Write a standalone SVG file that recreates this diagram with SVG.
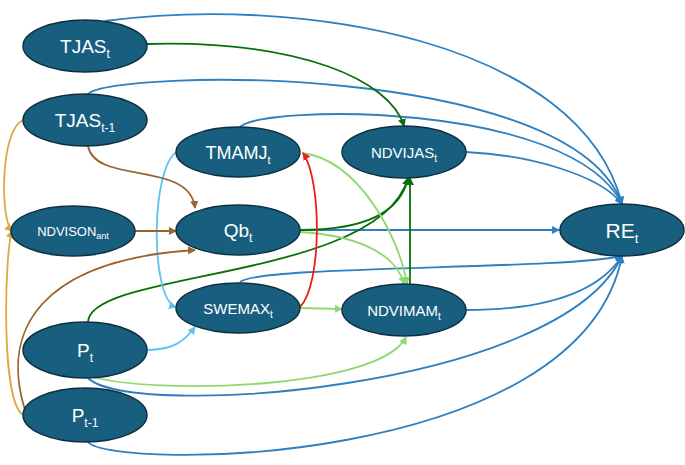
<svg xmlns="http://www.w3.org/2000/svg" width="685" height="465" viewBox="0 0 685 465">
<style>
.n{fill:#185e7f;stroke:#0f2f40;stroke-width:1.5}
.t{fill:#fff;font-family:"Liberation Sans",Arial,sans-serif;text-anchor:middle}
.e{fill:none;stroke-width:1.8}
.b{stroke:#2f80c0}.g{stroke:#087008}.lg{stroke:#8fd870}.lb{stroke:#5cc4ef}.r{stroke:#e8201c}.br{stroke:#9a6330}.o{stroke:#e0a840}
</style>
<defs>
<marker id="mb" markerWidth="8" markerHeight="8" refX="7" refY="4" orient="auto" markerUnits="userSpaceOnUse"><path d="M0,0L8,4L0,8z" fill="#2f80c0"/></marker>
<marker id="mg" markerWidth="8" markerHeight="8" refX="7" refY="4" orient="auto" markerUnits="userSpaceOnUse"><path d="M0,0L8,4L0,8z" fill="#087008"/></marker>
<marker id="mlg" markerWidth="8" markerHeight="8" refX="7" refY="4" orient="auto" markerUnits="userSpaceOnUse"><path d="M0,0L8,4L0,8z" fill="#8fd870"/></marker>
<marker id="mlb" markerWidth="8" markerHeight="8" refX="7" refY="4" orient="auto" markerUnits="userSpaceOnUse"><path d="M0,0L8,4L0,8z" fill="#5cc4ef"/></marker>
<marker id="mr" markerWidth="8" markerHeight="8" refX="7" refY="4" orient="auto" markerUnits="userSpaceOnUse"><path d="M0,0L8,4L0,8z" fill="#e8201c"/></marker>
<marker id="mbr" markerWidth="8" markerHeight="8" refX="7" refY="4" orient="auto" markerUnits="userSpaceOnUse"><path d="M0,0L8,4L0,8z" fill="#9a6330"/></marker>
<marker id="mo" markerWidth="8" markerHeight="8" refX="7" refY="4" orient="auto" markerUnits="userSpaceOnUse"><path d="M0,0L8,4L0,8z" fill="#e0a840"/></marker>
</defs>
<g id="connectors">
<path class="e b" marker-end="url(#mb)" d="M105 21C300 -5 580 40 622 204"/>
<path class="e b" marker-end="url(#mb)" d="M88 94C110 70 570 60 622 204"/>
<path class="e b" marker-end="url(#mb)" d="M240 127C260 105 570 100 622 204"/>
<path class="e b" marker-end="url(#mb)" d="M466 152C530 155 600 175 622 204"/>
<path class="e b" marker-end="url(#mb)" d="M300 230L559 230"/>
<path class="e b" marker-end="url(#mb)" d="M240 282C260 265 560 270 622 256"/>
<path class="e b" marker-end="url(#mb)" d="M466 310C550 310 600 290 622 256"/>
<path class="e b" marker-end="url(#mb)" d="M88 378C130 420 560 390 622 256"/>
<path class="e b" marker-end="url(#mb)" d="M88 442C110 470 580 470 622 256"/>
<path class="e g" marker-end="url(#mg)" d="M147 44C300 40 390 80 404 126"/>
<path class="e g" marker-end="url(#mg)" d="M300 230C360 230 400 215 408 178"/>
<path class="e g" marker-end="url(#mg)" d="M88 322C90 270 380 280 408 178"/>
<path class="e g" marker-end="url(#mg)" d="M410 284L410 178"/>
<path class="e lg" marker-end="url(#mlg)" d="M302 153C360 160 400 240 407 284"/>
<path class="e lg" marker-end="url(#mlg)" d="M300 232C350 235 395 250 404 284"/>
<path class="e lg" marker-end="url(#mlg)" d="M300 308L342 309"/>
<path class="e lg" marker-end="url(#mlg)" d="M90 376C150 395 380 390 406 337"/>
<path class="e r" marker-end="url(#mr)" d="M300 307C322 285 322 180 303 153"/>
<path class="e lb" marker-end="url(#mlb)" d="M178 151C150 165 150 300 176 307"/>
<path class="e lb" marker-end="url(#mlb)" d="M147 350C175 350 185 340 195 327"/>
<path class="e br" marker-end="url(#mbr)" d="M88 146C95 185 190 160 195 208"/>
<path class="e br" marker-end="url(#mbr)" d="M135 231L176 231"/>
<path class="e br" marker-end="url(#mbr)" d="M25 410C0 330 40 260 195 250"/>
<path class="e o" marker-end="url(#mo)" d="M23 120C0 130 0 220 12 231"/>
<path class="e o" marker-end="url(#mo)" d="M23 415C0 400 5 250 12 231"/>
</g>
<g id="TJAS_t"><ellipse class="n" cx="85" cy="46" rx="62" ry="26"/><text class="t" x="85" y="53" font-size="19">TJAS<tspan font-size="12" dy="5">t</tspan></text></g>
<g id="TJAS_t-1"><ellipse class="n" cx="85" cy="120" rx="62" ry="26"/><text class="t" x="85" y="127" font-size="19">TJAS<tspan font-size="12" dy="5">t-1</tspan></text></g>
<g id="NDVISON_ant"><ellipse class="n" cx="73" cy="231" rx="62" ry="25"/><text class="t" x="73" y="236" font-size="13">NDVISON<tspan font-size="9" dy="3">ant</tspan></text></g>
<g id="P_t"><ellipse class="n" cx="85" cy="350" rx="62" ry="28"/><text class="t" x="85" y="357" font-size="19">P<tspan font-size="12" dy="5">t</tspan></text></g>
<g id="P_t-1"><ellipse class="n" cx="85" cy="415" rx="62" ry="27"/><text class="t" x="85" y="422" font-size="19">P<tspan font-size="12" dy="5">t-1</tspan></text></g>
<g id="TMAMJ_t"><ellipse class="n" cx="238" cy="152" rx="62" ry="25"/><text class="t" x="238" y="159" font-size="18">TMAMJ<tspan font-size="11" dy="5">t</tspan></text></g>
<g id="Qb_t"><ellipse class="n" cx="238" cy="230" rx="62" ry="25"/><text class="t" x="238" y="237" font-size="19">Qb<tspan font-size="12" dy="5">t</tspan></text></g>
<g id="SWEMAX_t"><ellipse class="n" cx="238" cy="308" rx="62" ry="25"/><text class="t" x="238" y="314" font-size="15">SWEMAX<tspan font-size="10" dy="4">t</tspan></text></g>
<g id="NDVIJAS_t"><ellipse class="n" cx="404" cy="152" rx="62" ry="26"/><text class="t" x="404" y="158" font-size="15">NDVIJAS<tspan font-size="10" dy="4">t</tspan></text></g>
<g id="NDVIMAM_t"><ellipse class="n" cx="404" cy="310" rx="62" ry="26"/><text class="t" x="404" y="316" font-size="15">NDVIMAM<tspan font-size="10" dy="4">t</tspan></text></g>
<g id="RE_t"><ellipse class="n" cx="622" cy="230" rx="62" ry="26"/><text class="t" x="622" y="238" font-size="21">RE<tspan font-size="13" dy="5">t</tspan></text></g>
</svg>
